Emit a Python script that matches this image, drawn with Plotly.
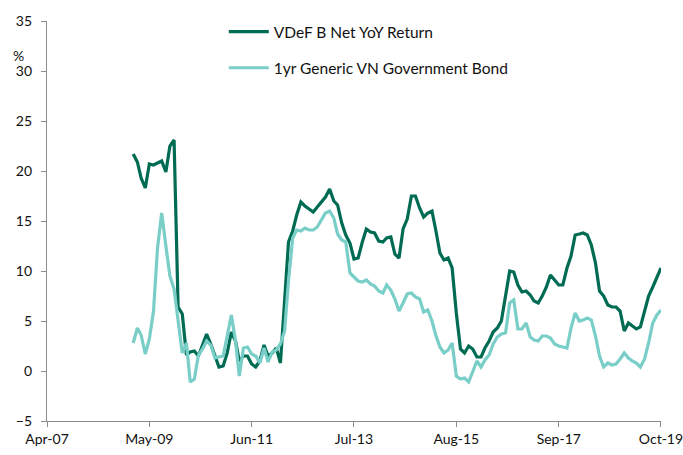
import pandas as pd
import plotly.graph_objects as go

start_month = "2009-01-01"

vdef_return = [
    21.7, 20.9, 19.3, 18.3, 20.7, 20.6, 20.8, 21.0, 19.9, 22.5,
    23.1, 6.4, 5.7, 1.6, 1.9, 2.0, 1.5, 2.7, 3.7, 2.7,
    1.4, 0.4, 0.5, 1.8, 3.9, 3.0, 1.0, 1.5, 1.5, 0.7,
    0.4, 1.0, 2.6, 1.5, 1.8, 2.3, 0.8, 7.5, 12.9, 14.0,
    15.6, 16.9, 16.5, 16.2, 15.9, 16.4, 16.9, 17.4, 18.2, 17.0,
    16.6, 14.8, 13.6, 12.8, 11.2, 11.3, 12.9, 14.2, 13.9, 13.8,
    13.0, 12.9, 13.3, 13.4, 11.7, 11.3, 14.2, 15.2, 17.5, 17.5,
    16.3, 15.4, 15.8, 16.0, 14.1, 11.8, 11.1, 11.3, 10.3, 5.8,
    2.2, 1.8, 2.5, 2.2, 1.4, 1.4, 2.3, 3.0, 3.9, 4.3,
    5.0, 7.4, 10.0, 9.9, 8.6, 7.9, 8.0, 7.6, 7.0, 6.8,
    7.5, 8.4, 9.6, 9.1, 8.6, 8.6, 10.3, 11.5, 13.6, 13.7,
    13.8, 13.6, 12.6, 10.8, 8.0, 7.5, 6.6, 6.4, 6.4, 6.0,
    4.0, 4.8, 4.5, 4.2, 4.4, 6.1, 7.5, 8.4, 9.3, 10.3,
]

vn_bond_1yr = [
    2.8, 4.3, 3.6, 1.7, 3.2, 6.0, 12.3, 15.8, 12.5, 9.5,
    8.2, 5.0, 1.8, 2.8, -1.1, -0.8, 1.6, 2.2, 3.0, 2.6,
    1.3, 1.4, 1.5, 3.5, 5.6, 3.0, -0.5, 2.3, 2.4, 1.7,
    1.5, 0.8, 2.3, 0.9, 1.9, 2.1, 2.7, 4.0, 9.0, 13.3,
    14.1, 14.0, 14.3, 14.1, 14.1, 14.4, 15.1, 15.8, 16.0, 15.3,
    13.7, 13.1, 12.9, 9.8, 9.4, 9.0, 8.9, 9.1, 8.7, 8.5,
    8.0, 7.8, 8.6, 8.1, 7.2, 6.0, 6.8, 7.7, 7.8, 7.4,
    7.2, 5.9, 6.1, 5.0, 3.6, 2.4, 1.8, 2.1, 2.8, -0.5,
    -0.8, -0.7, -1.1, -0.1, 1.0, 0.4, 1.1, 1.6, 2.7, 3.4,
    3.7, 3.8, 6.8, 7.1, 4.2, 4.2, 4.8, 3.4, 3.1, 3.0,
    3.5, 3.5, 3.3, 2.7, 2.5, 2.4, 2.3, 4.3, 5.8, 5.0,
    5.1, 5.3, 5.1, 3.5, 1.5, 0.4, 0.8, 0.6, 0.7, 1.2,
    1.8, 1.3, 1.0, 0.8, 0.4, 1.2, 2.8, 4.8, 5.6, 6.1,
]

series_names = ["VDeF B Net YoY Return", "1yr Generic VN Government Bond"]
y_ticks = [-5, 0, 5, 10, 15, 20, 25, 30, 35]

dates = pd.date_range(start_month, periods=len(vdef_return), freq="MS")

DARK = "#006B53"
LIGHT = "#79CEC8"
FONT = "Lato, 'Liberation Sans', Arial, sans-serif"

fig = go.Figure()
fig.add_trace(go.Scatter(x=dates, y=vdef_return, mode="lines", name=series_names[0],
                         line=dict(color=DARK, width=3.2), legendgroup="a"))
fig.add_trace(go.Scatter(x=dates, y=vn_bond_1yr, mode="lines", name=series_names[1],
                         line=dict(color=LIGHT, width=3.2), legendgroup="b"))

fig.update_layout(
    width=683, height=455,
    margin=dict(l=47, r=22, t=21, b=34, autoexpand=False),
    paper_bgcolor="white", plot_bgcolor="white",
    font=dict(family=FONT, size=14, color="#111111"),
    showlegend=True,
    legend=dict(x=0.288, y=1.015, xanchor="left", yanchor="top",
                bgcolor="rgba(0,0,0,0)", font=dict(size=15.5),
                traceorder="grouped", tracegroupgap=13, itemwidth=40),
    annotations=[dict(text="%", xref="paper", yref="paper", x=-0.046, y=0.913,
                      showarrow=False, font=dict(size=14), xanchor="center", yanchor="middle")],
)

fig.update_xaxes(
    type="date", automargin=False,
    range=["2007-04-01", "2019-10-01 06:00"],
    tick0="2007-04-01", dtick="M25", tickformat="%b-%y",
    ticklabeloverflow="allow",
    showgrid=False, zeroline=False,
    showline=True, linecolor="#8c8c8c", linewidth=1.3,
    ticks="outside", ticklen=5, tickcolor="#8c8c8c",
)
fig.update_yaxes(
    range=[-5, 35], tickvals=y_ticks, automargin=False,
    showgrid=False, zeroline=False,
    showline=True, linecolor="#8c8c8c", linewidth=1.3,
    ticks="outside", ticklen=5, tickcolor="#8c8c8c", ticklabelstandoff=6,
)

fig.write_html(
    "out.html",
    config={"displayModeBar": False},
    post_script="document.body.style.margin='0';document.body.style.overflow='hidden';",
)
